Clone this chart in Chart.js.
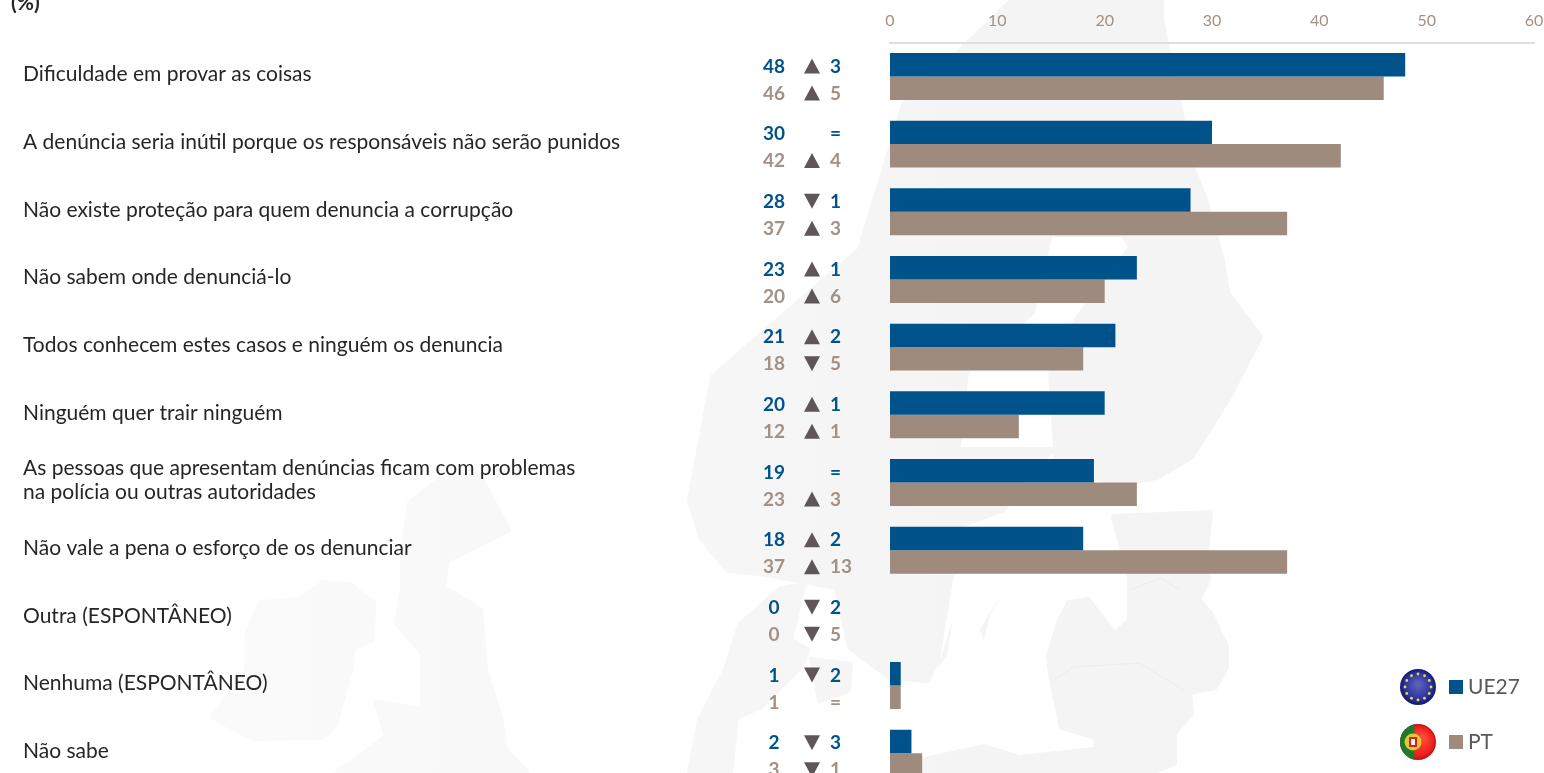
<!DOCTYPE html>
<html lang="pt">
<head>
<meta charset="utf-8">
<title>Razões para não denunciar</title>
<script src="https://cdn.jsdelivr.net/npm/chart.js@4"></script>
<style>
    html, body { margin: 0; height: 773px; overflow: hidden; background: #fff; }
    #map { position: absolute; left: 0; top: 0; }
    #chart { position: absolute; left: 0; top: 0; }
</style>
</head>
<body>
<!-- faint map behind the chart -->
<svg id="map" width="1544" height="773" viewBox="0 0 1544 773">
    <defs>
        <linearGradient id="land" gradientUnits="userSpaceOnUse" x1="250" y1="0" x2="1000" y2="0">
            <stop offset="0" stop-color="#fafafa"/>
            <stop offset="1" stop-color="#f4f4f4"/>
        </linearGradient>
    </defs>
    <g fill="url(#land)" stroke="url(#land)" stroke-width="6" stroke-linejoin="round">
        <path d="M260 603 L300 600 L323 583 L350 585 L373 603 L372 640 L353 647 L350 670 L335 725 L323 737 L253 738 L213 717 L225 700 L247 670 L247 637 Z"/>
        <path d="M480 477 L508 530 L447 560 L443 587 L480 610 L485 670 L500 717 L505 750 L527 773 L337 773 L387 737 L377 703 L423 710 L423 653 L397 623 L403 590 L403 557 L410 503 L440 480 Z"/>
        <path d="M1013 0 L1161 0 L1161 20 L1192 167 L1205 200 L1222 260 L1227 293 L1260 337 L1227 400 L1191 457 L1157 477 L1122 483 L1061 470 L1053 447 L1002 510 L960 525 L950 580 L937 660 L927 680 L890 677 L850 647 L837 587 L759 573 L728 570 L701 537 L690 500 L713 377 L790 310 L860 250 L904 105 L965 47 Z"/>
        <path d="M1114 517 L1210 513 L1205 560 L1208 580 L1198 600 L1210 613 L1226 647 L1226 667 L1215 687 L1189 692 L1191 713 L1174 733 L1174 763 L1149 773 L1094 773 L1097 737 L1062 727 L1052 680 L1049 657 L1059 623 L1069 603 L1088 600 L1115 635 L1130 620 L1130 577 Z"/>
        <path d="M740 625 L780 590 L803 585 L790 640 L807 650 L800 667 L760 707 L736 717 L730 773 L690 773 L700 720 L726 670 Z"/>
        <path d="M812 660 L850 665 L848 690 L820 700 Z"/>
        <path d="M923 773 L925 760 L984 747 L1019 758 L1094 750 L1094 773 Z"/>
    </g>
    <g fill="#f4f4f4">
        <path d="M980 630 L1003 590 L990 615 L984 640 Z"/>
        <path d="M937 670 L953 620 L947 655 Z"/>
    </g>
    <path fill="#fff" d="M1052 237 L1122 237 L1128 247 L1075 317 L1048 373 L1053 447 L961 447 L969 373 L1035 313 Z"/>
    <path fill="none" stroke="#ececec" d="M1052 682 L1073 667 L1139 663 L1184 690 M1130 590 L1160 578 L1180 590"/>
</svg>
<canvas id="chart" width="1544" height="787"></canvas>
<script>
const categories = [
    'Dificuldade em provar as coisas',
    'A denúncia seria inútil porque os responsáveis não serão punidos',
    'Não existe proteção para quem denuncia a corrupção',
    'Não sabem onde denunciá-lo',
    'Todos conhecem estes casos e ninguém os denuncia',
    'Ninguém quer trair ninguém',
    ['As pessoas que apresentam denúncias ficam com problemas', 'na polícia ou outras autoridades'],
    'Não vale a pena o esforço de os denunciar',
    'Outra (ESPONTÂNEO)',
    'Nenhuma (ESPONTÂNEO)',
    'Não sabe'
];
const ueValues = [48, 30, 28, 23, 21, 20, 19, 18, 0, 1, 2];
const ptValues = [46, 42, 37, 20, 18, 12, 23, 37, 0, 1, 3];
// change since the previous wave, sign gives the arrow, 0 prints "="
const ueChange = [3, 0, -1, 1, 2, 1, 0, 2, -2, -2, -3];
const ptChange = [5, 4, 3, 6, -5, 1, 3, 13, -5, 0, -1];
const xTicks = [0, 10, 20, 30, 40, 50, 60];

const BLUE = '#00528a';
const TAN = '#9e8b7d';
const TAN_TEXT = '#a29184';
const FONT = 'Lato, sans-serif';

function drawArrow(ctx, x, y, up) {
    ctx.fillStyle = '#5f565a';
    ctx.beginPath();
    if (up) {
        ctx.moveTo(x, y - 8);
        ctx.lineTo(x + 8, y + 7);
        ctx.lineTo(x - 8, y + 7);
    } else {
        ctx.moveTo(x - 8, y - 8);
        ctx.lineTo(x + 8, y - 8);
        ctx.lineTo(x, y + 7);
    }
    ctx.closePath();
    ctx.fill();
}

function drawRow(ctx, y, value, change, color) {
    ctx.fillStyle = color;
    ctx.font = 'bold 19px ' + FONT;
    ctx.textBaseline = 'middle';
    ctx.textAlign = 'center';
    ctx.fillText(value, 774, y);
    ctx.textAlign = 'left';
    ctx.fillText(change === 0 ? '=' : Math.abs(change), 830, y);
    if (change !== 0) {
        drawArrow(ctx, 812, y, change > 0);
    }
}

function drawEuFlag(ctx, x, y) {
    const r = 18;
    const grad = ctx.createRadialGradient(x, y - 3, 2, x, y, r);
    grad.addColorStop(0, '#5a5fb8');
    grad.addColorStop(0.75, '#2a2f9c');
    grad.addColorStop(1, '#12186e');
    ctx.fillStyle = grad;
    ctx.beginPath();
    ctx.arc(x, y, r, 0, Math.PI * 2);
    ctx.fill();
    ctx.fillStyle = '#e6d93a';
    for (let i = 0; i < 12; i++) {
        const a = i * Math.PI / 6;
        ctx.beginPath();
        ctx.arc(x + Math.cos(a) * 13, y + Math.sin(a) * 13, 1.4, 0, Math.PI * 2);
        ctx.fill();
    }
}

function drawPtFlag(ctx, x, y) {
    const r = 18;
    ctx.save();
    ctx.beginPath();
    ctx.arc(x, y, r, 0, Math.PI * 2);
    ctx.clip();
    const grad = ctx.createRadialGradient(x + 5, y - 4, 2, x, y, r);
    grad.addColorStop(0, '#ff4a3a');
    grad.addColorStop(0.8, '#ee1c1c');
    grad.addColorStop(1, '#b31212');
    ctx.fillStyle = grad;
    ctx.fillRect(x - r, y - r, r * 2, r * 2);
    ctx.fillStyle = '#1f7a2e';
    ctx.fillRect(x - r, y - r, r * 0.8, r * 2);
    ctx.restore();
    // coat of arms, only a rough idea at this size
    ctx.fillStyle = '#e3c92f';
    ctx.beginPath();
    ctx.arc(x - 5, y, 8.5, 0, Math.PI * 2);
    ctx.fill();
    ctx.fillStyle = '#c8261d';
    ctx.fillRect(x - 9, y - 5, 8, 10);
    ctx.fillStyle = '#f4f4f4';
    ctx.fillRect(x - 7, y - 3, 4, 6);
}

const overlayPlugin = {
    id: 'overlay',
    afterDraw(chart) {
        const ctx = chart.ctx;
        const yScale = chart.scales.y;
        ctx.save();

        ctx.fillStyle = '#262626';
        ctx.font = 'bold 21px ' + FONT;
        ctx.textAlign = 'left';
        ctx.textBaseline = 'middle';
        ctx.fillText('(%)', 11, 3);

        categories.forEach((cat, i) => {
            const y = yScale.getPixelForValue(i);
            drawRow(ctx, y - 10, ueValues[i], ueChange[i], BLUE);
            drawRow(ctx, y + 17, ptValues[i], ptChange[i], TAN_TEXT);
        });

        // legend, built from the datasets
        const legendY = [687, 742];
        chart.data.datasets.forEach((ds, i) => {
            if (i === 0) {
                drawEuFlag(ctx, 1418, legendY[i]);
            } else {
                drawPtFlag(ctx, 1418, legendY[i]);
            }
            ctx.fillStyle = ds.backgroundColor;
            ctx.fillRect(1449, legendY[i] - 7, 14, 14);
            ctx.fillStyle = '#595959';
            ctx.font = '21px ' + FONT;
            ctx.textAlign = 'left';
            ctx.textBaseline = 'middle';
            ctx.fillText(ds.label, 1468, legendY[i]);
        });
        ctx.restore();
    }
};

new Chart(document.getElementById('chart').getContext('2d'), {
    type: 'bar',
    data: {
        labels: categories,
        datasets: [
            { label: 'UE27', data: ueValues, backgroundColor: BLUE },
            { label: 'PT', data: ptValues, backgroundColor: TAN }
        ]
    },
    options: {
        indexAxis: 'y',
        responsive: false,
        animation: false,
        layout: { padding: { left: 23, right: 10, top: 0, bottom: 0 } },
        datasets: { bar: { categoryPercentage: 0.694, barPercentage: 1 } },
        plugins: {
            legend: { display: false },
            tooltip: { enabled: false }
        },
        scales: {
            x: {
                position: 'top',
                min: 0,
                max: 60,
                afterBuildTicks: axis => { axis.ticks = xTicks.map(v => ({ value: v })); },
                afterFit: axis => {
                    axis.height = 42.6;
                    axis.paddingLeft = 0;
                    axis.paddingRight = 0;
                },
                grid: { display: false },
                border: { color: '#dedede', width: 2 },
                ticks: {
                    color: TAN_TEXT,
                    font: { family: FONT, size: 16 },
                    padding: 4,
                    maxRotation: 0
                }
            },
            y: {
                afterFit: axis => {
                    axis.width = 867;
                    axis.paddingTop = 0;
                    axis.paddingBottom = 0;
                },
                grid: { display: false },
                border: { display: false },
                ticks: {
                    autoSkip: false,
                    crossAlign: 'far',
                    color: '#262626',
                    font: { family: FONT, size: 21, lineHeight: 1.15 },
                    labelOffset: -2
                }
            }
        }
    },
    plugins: [overlayPlugin]
});
</script>
</body>
</html>
